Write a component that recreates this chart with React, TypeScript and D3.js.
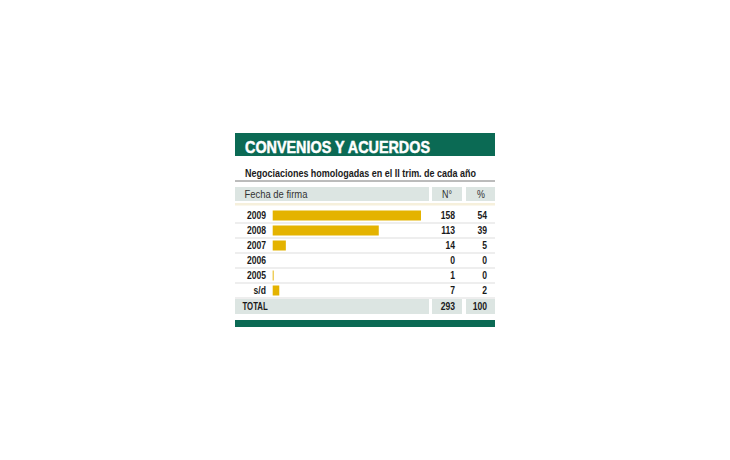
import { useMemo } from "react";
import type { ReactNode } from "react";
import * as d3 from "d3";

// ---------------------------------------------------------------------------
// Data
// ---------------------------------------------------------------------------

const TITLE = "CONVENIOS Y ACUERDOS";
const SUBTITLE = "Negociaciones homologadas en el II trim. de cada año";
const YEARS = ["2009", "2008", "2007", "2006", "2005", "s/d"];
const COUNTS = [158, 113, 14, 0, 1, 7];
const PERCENTS = [54, 39, 5, 0, 0, 2];
const TOTAL_COUNT = 293;
const TOTAL_PCT = 100;

// ---------------------------------------------------------------------------
// Style
// ---------------------------------------------------------------------------

const GREEN = "#0b6a54";
const BAND = "#dce5e2";
const GOLD = "#e4b300";
const INK = "#1a1a1a";
const FONT = "'Liberation Sans', Arial, sans-serif";

const LEFT = 235;
const RIGHT = 495;

// condensed text: horizontal squeeze around the anchor point
function CText({
  x,
  y,
  sx = 0.86,
  anchor = "start",
  size = 10,
  weight = "bold",
  fill = INK,
  children,
}: {
  x: number;
  y: number;
  sx?: number;
  anchor?: "start" | "middle" | "end";
  size?: number;
  weight?: string;
  fill?: string;
  children: ReactNode;
}) {
  return (
    <text
      transform={`translate(${x},${y}) scale(${sx},1)`}
      textAnchor={anchor}
      fontSize={size}
      fontWeight={weight}
      fill={fill}
    >
      {children}
    </text>
  );
}

export default function App() {
  const x = useMemo(
    () => d3.scaleLinear().domain([0, d3.max(COUNTS)!]).range([272.7, 421]),
    []
  );
  const y = useMemo(
    () => d3.scaleBand<string>().domain(YEARS).range([208, 298]).padding(0),
    []
  );
  const barH = 10;

  return (
    <svg
      width={730}
      height={460}
      style={{ position: "absolute", left: 0, top: 0, background: "#fff" }}
      fontFamily={FONT}
    >
      {/* ---- Header ---- */}
      <rect x={LEFT} y={133} width={RIGHT - LEFT} height={23} fill={GREEN} />
      <text
        x={245}
        y={152.5}
        fill="#fff"
        stroke="#fff"
        strokeWidth={0.5}
        fontSize={17}
        fontWeight="bold"
        textLength={185}
        lengthAdjust="spacingAndGlyphs"
      >
        {TITLE}
      </text>

      <text
        x={245}
        y={177}
        fill={INK}
        fontSize={10.5}
        fontWeight="bold"
        textLength={231}
        lengthAdjust="spacingAndGlyphs"
      >
        {SUBTITLE}
      </text>
      <line x1={LEFT} x2={RIGHT} y1={181} y2={181} stroke="#555" strokeWidth={0.8} />

      {/* ---- Column header bands ---- */}
      <rect x={LEFT} y={187} width={429 - LEFT} height={14} fill={BAND} />
      <rect x={432} y={187} width={30} height={14} fill={BAND} />
      <rect x={466} y={187} width={RIGHT - 466} height={14} fill={BAND} />
      <CText x={244.5} y={198} size={10.5} sx={0.9} weight="normal" fill="#333">
        Fecha de firma
      </CText>
      <CText x={447} y={198} size={10.5} sx={0.85} weight="normal" fill="#333" anchor="middle">
        N°
      </CText>
      <CText x={481} y={198} size={10.5} sx={0.85} weight="normal" fill="#333" anchor="middle">
        %
      </CText>
      <rect x={LEFT} y={203} width={RIGHT - LEFT} height={2.5} fill="#f6f0dc" />

      {/* ---- Rows ---- */}
      {YEARS.map((yr, i) => {
        const top = y(yr)!;
        const mid = top + y.bandwidth() / 2;
        return (
          <g key={yr}>
            <line
              x1={LEFT}
              x2={RIGHT}
              y1={top + y.bandwidth()}
              y2={top + y.bandwidth()}
              stroke="#d4d4d4"
              strokeWidth={0.8}
            />
            <rect
              x={x(0)}
              y={mid - barH / 2}
              width={x(COUNTS[i]) - x(0)}
              height={barH}
              fill={GOLD}
            />
            <CText x={266} y={mid + 3.5} anchor="end">
              {yr}
            </CText>
            <CText x={455} y={mid + 3.5} anchor="end">
              {COUNTS[i]}
            </CText>
            <CText x={487} y={mid + 3.5} anchor="end">
              {PERCENTS[i]}
            </CText>
          </g>
        );
      })}

      {/* ---- Total row ---- */}
      <rect x={LEFT} y={299} width={429 - LEFT} height={15} fill={BAND} />
      <rect x={432} y={299} width={30} height={15} fill={BAND} />
      <rect x={466} y={299} width={RIGHT - 466} height={15} fill={BAND} />
      <CText x={242.5} y={310} size={10} sx={0.78}>
        TOTAL
      </CText>
      <CText x={455} y={310} anchor="end">
        {TOTAL_COUNT}
      </CText>
      <CText x={487} y={310} anchor="end">
        {TOTAL_PCT}
      </CText>

      {/* ---- Footer bar ---- */}
      <rect x={LEFT} y={320} width={RIGHT - LEFT} height={7} fill={GREEN} />
    </svg>
  );
}
